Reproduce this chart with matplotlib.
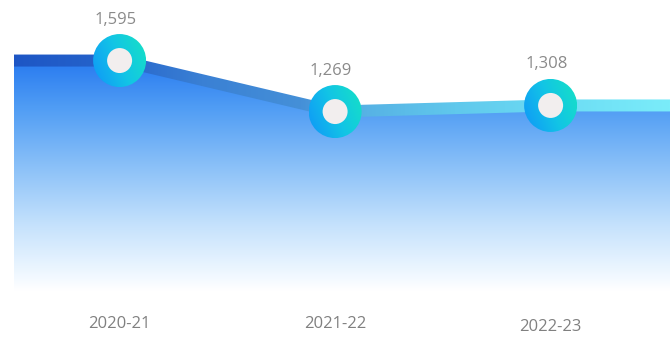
import numpy as np
import matplotlib.pyplot as plt
from matplotlib.colors import LinearSegmentedColormap
from matplotlib.patches import Polygon, Ellipse

plt.rcParams['font.family'] = ['Open Sans', 'DejaVu Sans']

seasons = ['2020-21', '2021-22', '2022-23']
values = [1595, 1269, 1308]
value_labels = ['1,595', '1,269', '1,308']

W, H, DPI = 670, 337, 100
fig = plt.figure(figsize=(W / DPI, H / DPI), dpi=DPI)
ax = fig.add_axes([0, 0, 1, 1])
xmin, xmax = -0.555, 2.554
ymin, ymax = -172, 1982
base = 120
ax.set_xlim(xmin, xmax)
ax.set_ylim(ymin, ymax)
ax.axis('off')

# data units per pixel
ux = (xmax - xmin) / W
uy = (ymax - ymin) / H

x = np.arange(len(values))
xl = np.r_[-0.49, x, xmax]
yl = np.r_[values[0], values, values[-1]]

# area under the line, vertical gradient
fill_cmap = LinearSegmentedColormap.from_list('fill', [
    (0.0, '#ffffff'), (0.08, '#eef7ff'), (0.3, '#c2e0fc'),
    (0.55, '#88bff8'), (0.8, '#4f9cf4'), (1.0, '#287af0')])
area = Polygon(np.c_[np.r_[xl, xl[-1], xl[0]], np.r_[yl, base, base]],
               closed=True, facecolor='none', edgecolor='none')
ax.add_patch(area)
grad = np.linspace(0, 1, 256).reshape(-1, 1)
im = ax.imshow(grad, cmap=fill_cmap, origin='lower', aspect='auto',
               extent=[xmin, xmax, base, max(values)], zorder=1)
im.set_clip_path(area)

# thick line with horizontal gradient
line_cmap = LinearSegmentedColormap.from_list('line', [
    (0.0, '#1c54c4'), (0.17, '#2664cb'), (0.3, '#3a80d4'), (0.45, '#4590d8'),
    (0.53, '#56b0e4'), (0.68, '#60c8ec'), (0.83, '#6cdcf4'), (1.0, '#7aecfa')])
half = 6 * uy
band = Polygon(np.c_[np.r_[xl, xl[::-1]], np.r_[yl + half, (yl - half)[::-1]]],
               closed=True, facecolor='none', edgecolor='none')
ax.add_patch(band)
hgrad = np.linspace(0, 1, 256).reshape(1, -1)
im2 = ax.imshow(hgrad, cmap=line_cmap, aspect='auto',
                extent=[xmin, xmax, ymin, ymax], zorder=2)
im2.set_clip_path(band)

# ring markers
ring_cmap = LinearSegmentedColormap.from_list('ring', ['#0f96f8', '#12c4e6', '#16e2c4'])
r_out, r_in = 26.5, 12.5
gx, gy = np.meshgrid(np.linspace(-1, 1, 64), np.linspace(-1, 1, 64))
ring_grad = (gx * 0.85 + gy * 0.35)
for xi, yi in zip(x, values):
    outer = Ellipse((xi, yi), 2 * r_out * ux, 2 * r_out * uy,
                    facecolor='none', edgecolor='none')
    ax.add_patch(outer)
    rim = ax.imshow(ring_grad, cmap=ring_cmap, origin='lower', aspect='auto',
                    extent=[xi - r_out * ux, xi + r_out * ux,
                            yi - r_out * uy, yi + r_out * uy], zorder=3)
    rim.set_clip_path(outer)
    ax.add_patch(Ellipse((xi, yi), 2 * r_in * ux, 2 * r_in * uy,
                         facecolor='#f2eeee', edgecolor='none', zorder=4))

for xi, yi, lbl in zip(x, values, value_labels):
    ax.annotate(lbl, (xi, yi), xytext=(-3, 29.5), textcoords='offset points',
                ha='center', va='center', color='#8a8a8a', fontsize=12)

# season labels along the bottom
label_y = [324, 324, 327]
for xi, s, py in zip(x, seasons, label_y):
    ax.annotate(s, (xi, 1 - py / H), xycoords=('data', 'figure fraction'),
                ha='center', va='center', color='#808080', fontsize=12)

ax.set_xlim(xmin, xmax)
ax.set_ylim(ymin, ymax)
fig.savefig('out.png', dpi=DPI)
